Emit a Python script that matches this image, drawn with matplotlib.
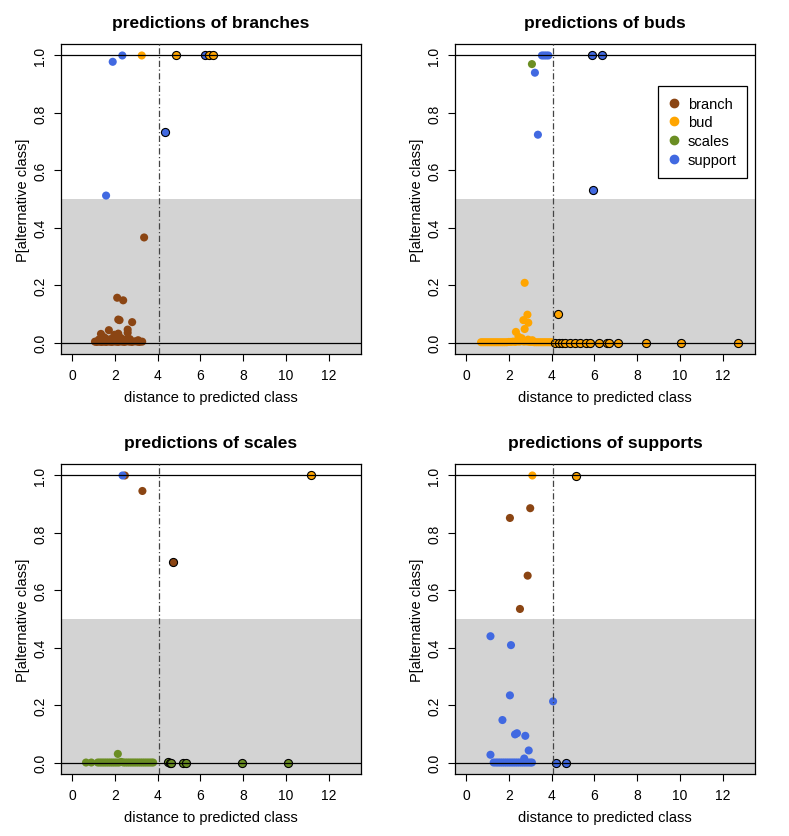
import matplotlib
matplotlib.use("Agg")
import matplotlib.pyplot as plt
from matplotlib.lines import Line2D

plt.rcParams['font.family'] = ['Liberation Sans', 'DejaVu Sans']

class_names = ["branch", "bud", "scales", "support"]
class_colors = {"branch": "#8B4513", "bud": "#FFA500",
                "scales": "#6B8E23", "support": "#4169E1"}
threshold = 4.08

# predictions of branches
branches_x = [1.90, 2.35, 3.26, 4.85, 6.22, 6.42, 6.59, 4.37, 1.59, 3.37,
              2.11, 2.39, 2.16, 2.22, 2.81, 2.60, 2.60, 1.72, 1.35, 2.16,
              1.98, 1.54, 2.28, 3.09, 1.45, 1.80, 2.50, 2.70, 1.25,
              1.07, 1.15, 1.22, 1.30, 1.38, 1.45, 1.52, 1.60, 1.70, 1.78,
              1.86, 1.95, 2.05, 2.15, 2.25, 2.35, 2.45, 2.55, 2.68, 2.80,
              2.92, 3.05, 3.15, 3.28]
branches_y = [0.978, 1.0, 1.0, 1.0, 1.0, 1.0, 1.0, 0.735, 0.512, 0.366,
              0.156, 0.147, 0.080, 0.078, 0.071, 0.045, 0.034, 0.043, 0.030, 0.031,
              0.027, 0.016, 0.016, 0.008, 0.020, 0.012, 0.010, 0.012, 0.010,
              0.003, 0.002, 0.004, 0.003, 0.002, 0.004, 0.003, 0.002, 0.004, 0.003,
              0.002, 0.004, 0.003, 0.002, 0.004, 0.003, 0.002, 0.004, 0.003, 0.002,
              0.004, 0.003, 0.002, 0.003]
branches_cls = (["support", "support", "bud", "bud", "support", "bud", "bud",
                 "support", "support"] + ["branch"] * 44)

# predictions of buds
buds_x = [3.55, 3.65, 3.75, 3.85, 5.88, 6.38, 3.08, 3.22, 3.36, 5.95,
          2.74, 4.28, 2.87, 2.68, 2.91, 2.74, 2.33, 2.45, 2.60, 2.90, 3.10,
          0.70, 0.80, 0.90, 1.00, 1.10, 1.20, 1.30, 1.40, 1.50, 1.60, 1.70,
          1.80, 1.90, 2.00, 2.10, 2.20, 2.30, 2.40, 2.50, 2.60, 2.70, 2.80,
          2.90, 3.00, 3.10, 3.20, 3.30, 3.40, 3.50, 3.60, 3.70, 3.80, 3.90, 4.00,
          4.17, 4.33, 4.48, 4.64, 4.87, 5.11, 5.34, 5.62, 5.81, 6.20, 6.58,
          6.71, 7.13, 8.40, 10.08, 12.73]
buds_y = [1.0, 1.0, 1.0, 1.0, 1.0, 1.0, 0.970, 0.940, 0.724, 0.531,
          0.208, 0.100, 0.097, 0.078, 0.069, 0.047, 0.037, 0.020, 0.015, 0.010, 0.008,
          0.001, 0.001, 0.001, 0.001, 0.001, 0.001, 0.001, 0.001, 0.001, 0.001, 0.001,
          0.001, 0.001, 0.002, 0.002, 0.003, 0.002, 0.004, 0.003, 0.005, 0.003, 0.004,
          0.003, 0.002, 0.002, 0.001, 0.001, 0.001, 0.001, 0.001, 0.001, 0.001, 0.001, 0.001,
          0.0, 0.0, 0.0, 0.0, 0.0, 0.0, 0.0, 0.0, 0.0, 0.0, 0.0,
          0.0, 0.0, 0.0, 0.0, 0.0]
buds_cls = (["support"] * 6 + ["scales", "support", "support", "support"]
            + ["bud"] * 61)

# predictions of scales
scales_x = [2.47, 2.36, 3.29, 11.17, 4.72, 2.14,
            0.65, 0.90, 1.20, 1.30, 1.40, 1.50, 1.60, 1.70, 1.80, 1.90, 2.00,
            2.10, 2.20, 2.30, 2.40, 2.50, 2.60, 2.70, 2.80, 2.90, 3.00, 3.10,
            3.20, 3.30, 3.40, 3.50, 3.60, 3.70, 3.79,
            4.49, 4.57, 4.65, 5.19, 5.35, 7.94, 10.12]
scales_y = [1.0, 1.0, 0.946, 1.0, 0.697, 0.030,
            0.0, 0.0, 0.0, 0.0, 0.0, 0.0, 0.0, 0.0, 0.0, 0.0, 0.0,
            0.0, 0.0, 0.002, 0.0, 0.0, 0.0, 0.0, 0.0, 0.0, 0.0, 0.0,
            0.0, 0.0, 0.0, 0.0, 0.0, 0.0, 0.0,
            0.002, 0.0, 0.0, 0.0, 0.0, 0.0, 0.0]
scales_cls = ["branch", "support", "branch", "bud", "branch"] + ["scales"] * 37

# predictions of supports
supports_x = [3.10, 5.15, 3.00, 2.05, 2.88, 2.52,
              1.14, 2.10, 2.05, 4.07, 1.70, 2.29, 2.38, 2.77, 2.93, 1.14, 2.72,
              1.29, 1.40, 1.50, 1.60, 1.70, 1.80, 1.90, 2.00, 2.10, 2.20, 2.30,
              2.40, 2.50, 2.60, 2.70, 2.80, 2.90, 3.00, 3.08,
              4.22, 4.67]
supports_y = [1.0, 0.998, 0.886, 0.852, 0.651, 0.535,
              0.440, 0.409, 0.234, 0.213, 0.148, 0.098, 0.102, 0.093, 0.042, 0.027, 0.014,
              0.0, 0.0, 0.0, 0.0, 0.0, 0.0, 0.0, 0.0, 0.0, 0.0, 0.0,
              0.0, 0.0, 0.0, 0.0, 0.0, 0.0, 0.0, 0.0,
              0.0, 0.0]
supports_cls = ["bud", "bud", "branch", "branch", "branch", "branch"] + ["support"] * 32

panels = [
    ("predictions of branches", branches_x, branches_y, branches_cls),
    ("predictions of buds", buds_x, buds_y, buds_cls),
    ("predictions of scales", scales_x, scales_y, scales_cls),
    ("predictions of supports", supports_x, supports_y, supports_cls),
]

fig = plt.figure(figsize=(7.89, 8.37), dpi=100)
W, H = 789, 837
boxes = [(61, 45), (455, 45), (61, 465), (455, 465)]
bw, bh = 300, 310

for i, (title, xs, ys, cls) in enumerate(panels):
    left, top = boxes[i]
    ax = fig.add_axes([left / W, 1 - (top + bh) / H, bw / W, bh / H])
    ax.set_xlim(-0.52, 13.52)
    ax.set_ylim(-0.04, 1.04)
    ax.axhspan(-1, 0.5, color="#D3D3D3", lw=0, zorder=0)

    for x, y, c in zip(xs, ys, cls):
        outlined = x > threshold
        ax.scatter(x, y, s=34, color=class_colors[c],
                   edgecolors="black" if outlined else "none",
                   linewidths=0.8, zorder=3)

    ax.axhline(0, color="black", lw=0.9, zorder=4)
    ax.axhline(1, color="black", lw=0.9, zorder=4)
    ax.axvline(threshold, color="#444444", lw=0.9, ls=(0, (5, 2, 1, 2)), zorder=4)

    ax.set_xticks([0, 2, 4, 6, 8, 10, 12])
    ax.set_yticks([0.0, 0.2, 0.4, 0.6, 0.8, 1.0])
    ax.set_yticklabels(["0.0", "0.2", "0.4", "0.6", "0.8", "1.0"],
                       rotation=90, va="center")
    ax.tick_params(axis="both", length=5, width=0.8, labelsize=10, pad=5)
    for sp in ax.spines.values():
        sp.set_linewidth(0.9)
    ax.set_title(title, fontsize=12.5, fontweight="bold", pad=12)
    ax.set_xlabel("distance to predicted class", fontsize=10.5, labelpad=6)
    ax.set_ylabel("P[alternative class]", fontsize=10.5, labelpad=2)

    if i == 1:
        handles = [Line2D([], [], marker="o", ls="none", color=class_colors[n],
                          markersize=6, label=n) for n in class_names]
        leg = ax.legend(handles=handles, loc="upper right",
                        bbox_to_anchor=(0.975, 0.865), fontsize=10.5,
                        fancybox=False, framealpha=1, edgecolor="black",
                        handletextpad=0.5, borderpad=0.75, labelspacing=0.32,
                        handlelength=0.8, borderaxespad=0)
        leg.get_frame().set_linewidth(0.9)

fig.savefig("out.png", dpi=100)
